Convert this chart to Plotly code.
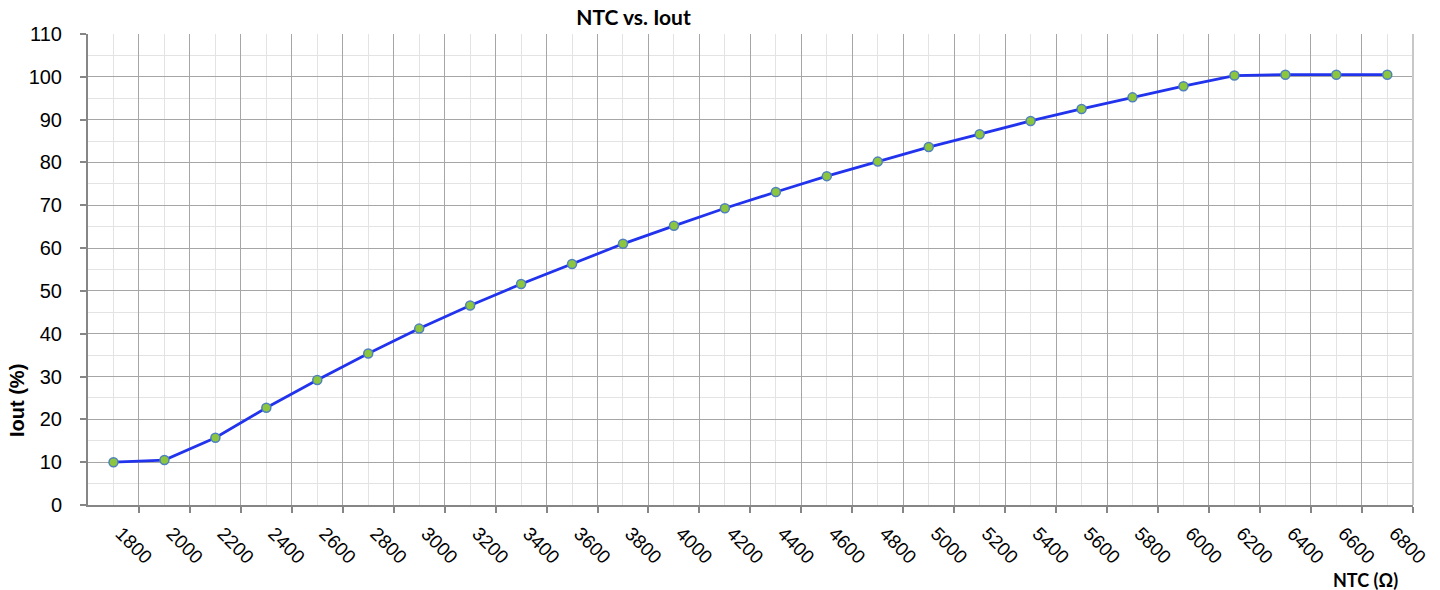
import plotly.graph_objects as go

ntc = [1700, 1900, 2100, 2300, 2500, 2700, 2900, 3100, 3300, 3500, 3700, 3900, 4100,
       4300, 4500, 4700, 4900, 5100, 5300, 5500, 5700, 5900, 6100, 6300, 6500, 6700]
iout = [10.0, 10.5, 15.7, 22.7, 29.2, 35.4, 41.2, 46.6, 51.6, 56.3, 61.0, 65.2, 69.3,
        73.1, 76.8, 80.2, 83.6, 86.6, 89.7, 92.5, 95.2, 97.8, 100.3, 100.5, 100.5, 100.5]
x_ticks = list(range(1800, 6801, 200))
y_ticks = list(range(0, 111, 10))

fig = go.Figure()
fig.add_trace(go.Scatter(
    x=ntc, y=iout, mode="lines+markers",
    line=dict(color="#2233ee", width=2.8),
    marker=dict(size=9, color="#8cc63f", line=dict(color="#4f81bd", width=1.5)),
    showlegend=False,
))

fig.update_layout(
    width=1440, height=590,
    margin=dict(l=88, r=27, t=34, b=85),
    paper_bgcolor="white", plot_bgcolor="white",
    title=dict(text="<b>NTC vs. Iout</b>", x=(575 + 692) / 2 / 1440, xanchor="center",
               y=1 - 18 / 590, yanchor="middle",
               font=dict(family="Lato, Liberation Sans, sans-serif", size=21, color="black")),
    font=dict(family="Liberation Sans, Arial, sans-serif", color="black"),
)

fig.update_xaxes(
    range=[1600, 6801], tickvals=x_ticks, ticktext=[str(v) for v in x_ticks],
    tickangle=45, tickfont=dict(size=19, color="black"),
    ticklabelshift=-18, ticklabelstandoff=2,
    showgrid=True, gridcolor="#a6a6a6", gridwidth=1,
    minor=dict(dtick=100, tick0=0, showgrid=True, gridcolor="#e3e3e3", gridwidth=1, ticks=""),
    showline=True, linecolor="#868686", linewidth=2, mirror=False,
    ticks="outside", ticklen=6, tickcolor="#868686", tickwidth=1.5,
    zeroline=False, automargin=False,
)
fig.update_yaxes(
    range=[0, 110], tickvals=y_ticks,
    tickfont=dict(size=20, color="black"), ticklabelstandoff=14,
    showgrid=True, gridcolor="#a6a6a6", gridwidth=1,
    minor=dict(dtick=5, tick0=0, showgrid=True, gridcolor="#e3e3e3", gridwidth=1, ticks=""),
    showline=True, linecolor="#868686", linewidth=2,
    ticks="outside", ticklen=6, tickcolor="#868686", tickwidth=1.5,
    zeroline=False, automargin=False,
)

# y-axis title placed explicitly
fig.add_annotation(text="<b>Iout (%)</b>", xref="paper", yref="paper",
                   x=0, xshift=-71, y=(505 - 401) / 471, xanchor="center", yanchor="middle",
                   textangle=-90, showarrow=False,
                   font=dict(family="Liberation Sans, Arial, sans-serif", size=20, color="black"))

# right border
fig.add_shape(type="line", xref="paper", yref="paper", x0=1, x1=1, y0=0, y1=1,
              line=dict(color="#c8c8c8", width=2))

fig.add_annotation(text="<b>NTC (Ω)</b>", xref="paper", yref="paper",
                   x=(1365 - 88) / 1325, y=0,
                   yshift=-75, xanchor="center", yanchor="middle", showarrow=False,
                   font=dict(family="Lato, Liberation Sans, sans-serif", size=18, color="black"))

fig.write_html("out.html", config={"displayModeBar": False})

# remove the browser's default page margin so the figure sits at the window origin
with open("out.html", "r", encoding="utf-8") as f:
    html = f.read()
html = html.replace("<head>", "<head><style>html,body{margin:0;padding:0;overflow:hidden;}</style>", 1)
with open("out.html", "w", encoding="utf-8") as f:
    f.write(html)
